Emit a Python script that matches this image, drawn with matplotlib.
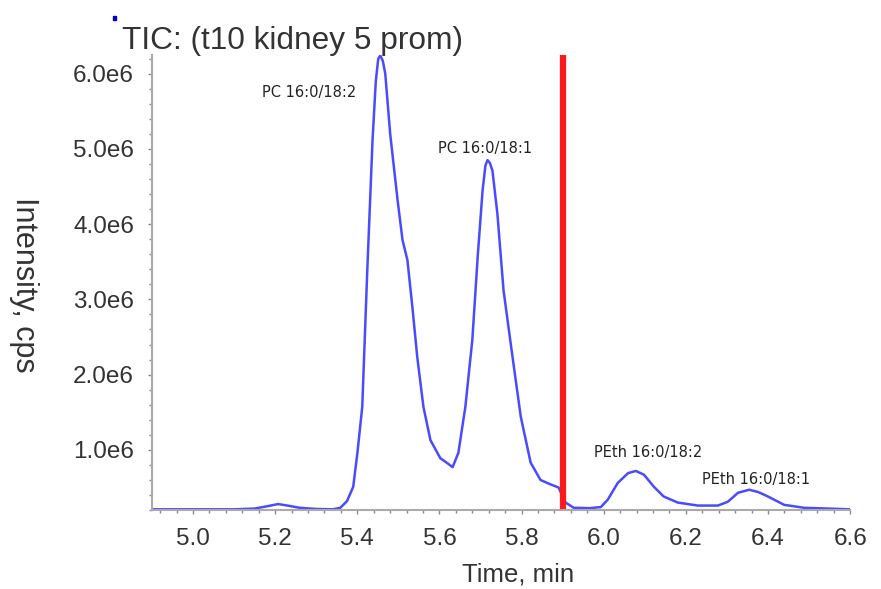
import numpy as np
import matplotlib
matplotlib.use("Agg")
from matplotlib import pyplot as plt
from matplotlib.ticker import MultipleLocator, FuncFormatter

plt.rcParams['font.family'] = ['Liberation Sans', 'DejaVu Sans']

# TIC trace (time in min, intensity in 1e6 cps)
time = [4.90, 4.95, 5.00, 5.05, 5.10, 5.15, 5.18, 5.207, 5.23, 5.26, 5.30, 5.34,
        5.3585, 5.375, 5.390, 5.40, 5.412, 5.424, 5.437, 5.445, 5.451, 5.456, 5.462,
        5.468, 5.480, 5.498, 5.510, 5.522, 5.534, 5.546, 5.561, 5.578, 5.602, 5.620,
        5.632, 5.646, 5.663, 5.680, 5.693, 5.705, 5.712, 5.717, 5.723, 5.729, 5.741,
        5.756, 5.778, 5.798, 5.822, 5.846, 5.871, 5.890, 5.907, 5.927, 5.937, 5.965,
        5.993, 6.010, 6.034, 6.059, 6.078, 6.098, 6.122, 6.146, 6.180, 6.229, 6.278,
        6.302, 6.327, 6.354, 6.376, 6.400, 6.439, 6.488, 6.546, 6.598]
intensity = [0.21, 0.21, 0.21, 0.21, 0.21, 0.22, 0.25, 0.28, 0.26, 0.23, 0.215, 0.21,
             0.23, 0.32, 0.51, 0.95, 1.57, 3.35, 5.11, 5.90, 6.20, 6.24, 6.17,
             6.00, 5.20, 4.32, 3.79, 3.52, 2.90, 2.23, 1.57, 1.13, 0.89, 0.82,
             0.77, 0.96, 1.57, 2.46, 3.56, 4.45, 4.78, 4.85, 4.81, 4.71, 4.14,
             3.12, 2.23, 1.44, 0.83, 0.60, 0.54, 0.50, 0.30, 0.23, 0.23, 0.225,
             0.24, 0.34, 0.56, 0.69, 0.72, 0.67, 0.51, 0.38, 0.30, 0.26, 0.26,
             0.31, 0.43, 0.47, 0.44, 0.38, 0.27, 0.23, 0.22, 0.21]

peak_labels = ['PC 16:0/18:2', 'PC 16:0/18:1', 'PEth 16:0/18:2', 'PEth 16:0/18:1']
label_time = [5.283, 5.712, 6.107, 6.371]
label_int = [5.75, 5.00, 0.96, 0.60]

marker_time = 5.902

t = np.array(time)
y = np.array(intensity) * 1e6

fig = plt.figure(figsize=(8.81, 5.89), dpi=100)
ax = fig.add_axes([0.1725, 0.134, 0.7925, 0.773])

ax.plot(t, y, color='#4a4aff', lw=1.8, solid_joinstyle='round')
ax.axvline(marker_time, ymin=0, ymax=0.995, color='#ff1a1a', lw=4.5)

for lab, lt, li in zip(peak_labels, label_time, label_int):
    ax.text(lt, li * 1e6, lab, ha='center', va='center', fontsize=10.5,
            family='DejaVu Sans', color='#222222')

ax.set_xlim(4.9, 6.6)
ax.set_ylim(0.2e6, 6.25e6)

ax.xaxis.set_major_locator(MultipleLocator(0.2))
ax.xaxis.set_minor_locator(MultipleLocator(0.04))
ax.yaxis.set_major_locator(MultipleLocator(1e6))
ax.yaxis.set_minor_locator(MultipleLocator(0.2e6))
ax.yaxis.set_major_formatter(FuncFormatter(lambda v, p: '%.1fe6' % (v / 1e6)))
ax.xaxis.set_major_formatter(FuncFormatter(lambda v, p: '%.1f' % v))

for s in ['top', 'right']:
    ax.spines[s].set_visible(False)
for s in ['left', 'bottom']:
    ax.spines[s].set_color('#aaaaaa')
    ax.spines[s].set_linewidth(1.5)

ax.tick_params(which='both', direction='out', color='#888888', width=1)
ax.tick_params(which='major', length=3, labelsize=17.5, labelcolor='#333333', pad=10)
ax.tick_params(which='minor', length=2)

fig.text(0.588, 0.024, 'Time, min', fontsize=18.5, color='#333333',
         ha='center', va='center')
fig.text(0.027, 0.516, 'Intensity, cps', rotation=-90, fontsize=22, color='#333333',
         ha='center', va='center')

fig.text(0.139, 0.93, 'TIC: (t10 kidney 5 prom)', fontsize=22.8, color='#333333',
         ha='left', va='center')
fig.patches.append(plt.Rectangle((0.128, 0.966), 0.004, 0.006, transform=fig.transFigure,
                                 color='#0000cc'))

fig.savefig('out.png', dpi=100)
